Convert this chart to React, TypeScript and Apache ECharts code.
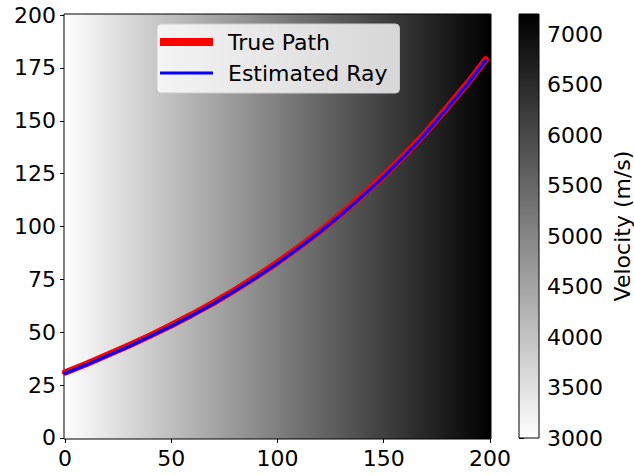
import React, { useEffect, useRef } from "react";
import * as echarts from "echarts";

const xTicks = [0, 50, 100, 150, 200];
const yTicks = [0, 25, 50, 75, 100, 125, 150, 175, 200];
const cbTicks = [3000, 3500, 4000, 4500, 5000, 5500, 6000, 6500, 7000];
const axisExtent = [-0.5, 200.5];
const velocityRange = [3000, 7200];
const modelVelocity = [3000, 7200]; // left edge, right edge

const pathX = [0, 10, 20, 30, 40, 50, 60, 70, 80, 90, 100, 110, 120, 130, 140, 150, 160, 170, 180, 190, 198];
const trueY = [31, 35, 39.3, 43.7, 48.4, 53.3, 58.5, 64, 70, 76.3, 83, 90.2, 97.8, 106, 114.8, 124, 134, 144.7, 156.5, 168.5, 179];
const estY = [30.6, 34.6, 38.9, 43.3, 48, 52.9, 58.1, 63.6, 69.6, 75.9, 82.6, 89.8, 97.4, 105.6, 114.4, 123.6, 133.6, 144.3, 156.1, 168.1, 178.6];

const FONT = "DejaVu Sans";
const FS = 22;

function grayFor(v: number): string {
  const t = (v - velocityRange[0]) / (velocityRange[1] - velocityRange[0]);
  const g = Math.round(255 * (1 - Math.max(0, Math.min(1, t))));
  return `rgb(${g},${g},${g})`;
}

export default function App() {
  const ref = useRef<HTMLDivElement>(null);
  useEffect(() => {
    if (!ref.current) return;
    const chart = echarts.init(ref.current, undefined, { renderer: "svg" });
    const tickStyle = { show: true, inside: false, length: 5, lineStyle: { color: "#000", width: 1 } };
    const labelStyle = { color: "#000", fontSize: FS, fontFamily: FONT, formatter: (v: number) => String(v) };
    chart.setOption({
      animation: false,
      textStyle: { fontFamily: FONT },
      grid: [
        { left: 64, top: 14, width: 427, height: 425 },
        { left: 519, top: 14, width: 21, height: 424 },
      ],
      legend: {
        orient: "vertical",
        left: 157,
        top: 24,
        padding: [7, 12, 9, 3],
        itemGap: 9,
        itemWidth: 53,
        itemHeight: 8,
        backgroundColor: "rgba(255,255,255,0.8)",
        borderColor: "#cccccc",
        borderWidth: 1,
        borderRadius: 4,
        textStyle: { color: "#000", fontSize: FS, fontFamily: FONT, padding: [0, 0, 0, 10] },
        data: [
          { name: "True Path", icon: "path://M0,0H53V8H0Z", itemStyle: { color: "#ff0000" } },
          { name: "Estimated Ray", icon: "path://M0,0H53V3H0Z", itemStyle: { color: "#0000ff" } },
        ],
      },
      xAxis: [
        {
          gridIndex: 0,
          type: "value",
          min: axisExtent[0],
          max: axisExtent[1],
          position: "bottom",
          axisLine: { show: false },
          axisTick: { ...tickStyle, customValues: xTicks },
          axisLabel: { ...labelStyle, margin: 8, customValues: xTicks },
          splitLine: { show: false },
        },
        {
          gridIndex: 1,
          type: "value",
          min: 0,
          max: 1,
          show: false,
        },
      ],
      yAxis: [
        {
          gridIndex: 0,
          type: "value",
          min: axisExtent[0],
          max: axisExtent[1],
          position: "left",
          axisLine: { show: false },
          axisTick: { ...tickStyle, customValues: yTicks },
          axisLabel: { ...labelStyle, margin: 8, customValues: yTicks },
          splitLine: { show: false },
        },
        {
          gridIndex: 1,
          type: "value",
          min: velocityRange[0],
          max: velocityRange[1],
          position: "right",
          axisLine: { show: false },
          axisTick: { ...tickStyle, customValues: cbTicks },
          axisLabel: { ...labelStyle, margin: 8, customValues: cbTicks },
          splitLine: { show: false },
          name: "Velocity (m/s)",
          nameLocation: "middle",
          nameRotate: 90,
          nameGap: 72,
          nameTextStyle: { color: "#000", fontSize: FS, fontFamily: FONT },
        },
      ],
      series: [
        {
          type: "custom",
          xAxisIndex: 0,
          yAxisIndex: 0,
          silent: true,
          z: 1,
          data: [[axisExtent[0], axisExtent[1], axisExtent[0], axisExtent[1]]],
          encode: { x: [0, 1], y: [2, 3] },
          renderItem: (params: any, api: any) => {
            const p0 = api.coord([api.value(0), api.value(3)]);
            const p1 = api.coord([api.value(1), api.value(2)]);
            return {
              type: "rect",
              shape: { x: p0[0], y: p0[1], width: p1[0] - p0[0], height: p1[1] - p0[1] },
              style: {
                fill: new echarts.graphic.LinearGradient(0, 0, 1, 0, [
                  { offset: 0, color: grayFor(modelVelocity[0]) },
                  { offset: 1, color: grayFor(modelVelocity[1]) },
                ]),
                stroke: "#000",
                lineWidth: 1,
              },
            };
          },
        },
        {
          type: "custom",
          xAxisIndex: 1,
          yAxisIndex: 1,
          silent: true,
          z: 1,
          data: [[0, 1, velocityRange[0], velocityRange[1]]],
          encode: { x: [0, 1], y: [2, 3] },
          renderItem: (params: any, api: any) => {
            const p0 = api.coord([api.value(0), api.value(3)]);
            const p1 = api.coord([api.value(1), api.value(2)]);
            return {
              type: "rect",
              shape: { x: p0[0], y: p0[1], width: p1[0] - p0[0], height: p1[1] - p0[1] },
              style: {
                fill: new echarts.graphic.LinearGradient(0, 1, 0, 0, [
                  { offset: 0, color: grayFor(velocityRange[0]) },
                  { offset: 1, color: grayFor(velocityRange[1]) },
                ]),
                stroke: "#000",
                lineWidth: 1,
              },
            };
          },
        },
        {
          name: "True Path",
          type: "line",
          xAxisIndex: 0,
          yAxisIndex: 0,
          z: 3,
          smooth: false,
          showSymbol: false,
          symbol: "none",
          color: "#ff0000",
          lineStyle: { color: "#ff0000", width: 6.5, cap: "round", join: "round" },
          data: pathX.map((x, i) => [x, trueY[i]]),
        },
        {
          name: "Estimated Ray",
          type: "line",
          xAxisIndex: 0,
          yAxisIndex: 0,
          z: 4,
          smooth: false,
          showSymbol: false,
          symbol: "none",
          color: "#0000ff",
          lineStyle: { color: "#0000ff", width: 3, cap: "round", join: "round" },
          data: pathX.map((x, i) => [x, estY[i]]),
        },
      ],
    });
    return () => chart.dispose();
  }, []);
  return <div ref={ref} style={{ width: 634, height: 475, position: "absolute", left: 0, top: 0 }} />;
}
